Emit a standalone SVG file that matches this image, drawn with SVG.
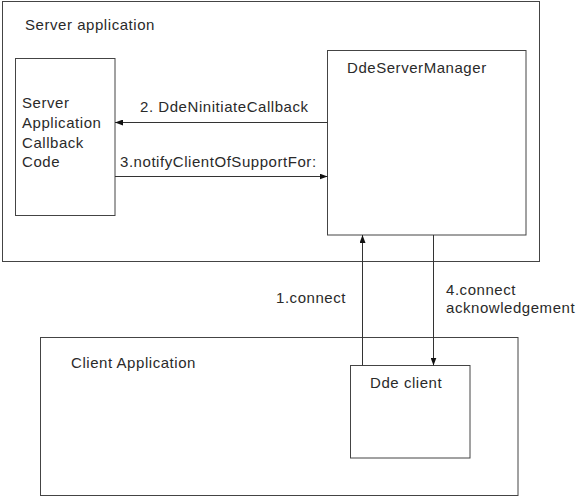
<svg xmlns="http://www.w3.org/2000/svg" width="576" height="498" viewBox="0 0 576 498">
<defs>
<marker id="ah" viewBox="0 0 8 6" refX="8" refY="3" markerWidth="8" markerHeight="6" markerUnits="userSpaceOnUse" orient="auto">
<path d="M0,0 L8,3 L0,6 Z" fill="#111"/>
</marker>
</defs>
<style>
rect{fill:#fff;stroke:#444;stroke-width:1}
line{stroke:#333;stroke-width:1;marker-end:url(#ah)}
text{font-family:"Liberation Sans",Arial,sans-serif;font-size:15px;letter-spacing:0.55px;fill:#2a2a2a}
</style>
<rect x="0" y="0" width="576" height="498" style="stroke:none"/>
<g id="server-application">
<rect x="2.5" y="1.5" width="537" height="260"/>
<text x="25" y="30">Server application</text>
</g>
<g id="server-callback">
<rect x="15.5" y="58.5" width="99.5" height="157"/>
<text x="22" y="108">Server</text>
<text x="22" y="128">Application</text>
<text x="22" y="148">Callback</text>
<text x="22" y="167">Code</text>
</g>
<g id="dde-server-manager">
<rect x="327.5" y="50.5" width="198.5" height="184.5"/>
<text x="347" y="73">DdeServerManager</text>
</g>
<g id="client-application">
<rect x="40.5" y="337.5" width="477.5" height="158"/>
<text x="71" y="368">Client Application</text>
</g>
<g id="dde-client">
<rect x="350.5" y="365.5" width="119.5" height="92.5"/>
<text x="370" y="388">Dde client</text>
</g>
<g id="connectors">
<line x1="327.5" y1="122.5" x2="115" y2="122.5"/>
<line x1="115" y1="176.5" x2="327.5" y2="176.5"/>
<line x1="362.5" y1="365.5" x2="362.5" y2="235"/>
<line x1="433.5" y1="235" x2="433.5" y2="365.5"/>
<text x="140" y="112">2. DdeNinitiateCallback</text>
<text x="120" y="167">3.notifyClientOfSupportFor:</text>
<text x="276" y="303">1.connect</text>
<text x="446" y="295">4.connect</text>
<text x="446" y="313">acknowledgement</text>
</g>
</svg>
